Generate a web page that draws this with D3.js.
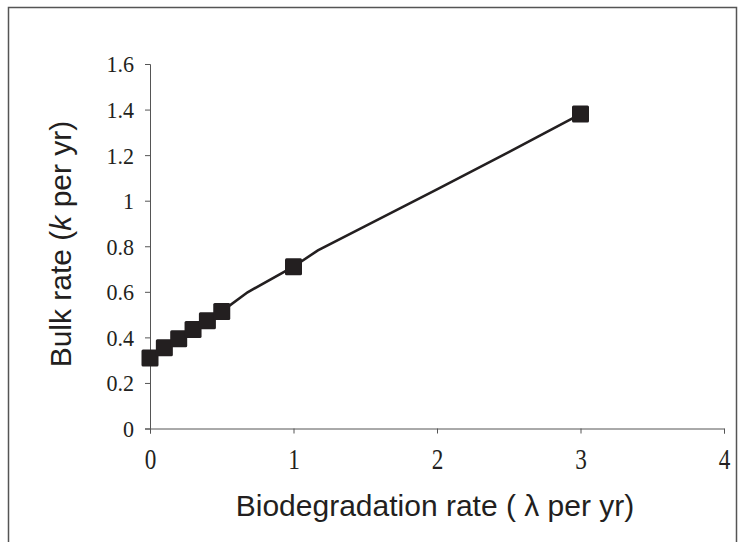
<!DOCTYPE html>
<html><head><meta charset="utf-8">
<script src="https://cdn.jsdelivr.net/npm/d3@7"></script>
<style>body{margin:0;background:#fff}svg{display:block}</style>
</head><body>
<script>
// data
const markerLambda = [0, 0.1, 0.2, 0.3, 0.4, 0.5, 1, 3];
const markerK      = [0.31, 0.355, 0.394, 0.435, 0.473, 0.514, 0.71, 1.38];
const lineLambda   = [0, 0.1, 0.2, 0.3, 0.4, 0.5, 0.68, 1, 1.17, 1.5, 2, 2.5, 2.73, 3];
const lineK        = [0.31, 0.355, 0.394, 0.435, 0.473, 0.514, 0.598, 0.71, 0.782, 0.888, 1.05, 1.213, 1.29, 1.38];
const xTicks = [0, 1, 2, 3, 4];
const yTicks = [0, 0.2, 0.4, 0.6, 0.8, 1, 1.2, 1.4, 1.6];
const xTitle = "Biodegradation rate ( λ per yr)";

const W = 745, H = 542;
const svg = d3.select("body").append("svg").attr("width", W).attr("height", H);
const x = d3.scaleLinear().domain([0, 4]).range([150, 724]);
const y = d3.scaleLinear().domain([0, 1.6]).range([428.5, 64]);

// frame
svg.append("path").attr("d", `M8.5,${H} V7.5 H736.5 V${H}`)
  .attr("fill", "none").attr("stroke", "#555").attr("stroke-width", 1.5);

const axisColor = "#555";
const serif = "'Liberation Serif', 'Times New Roman', serif";
const sans = "'Liberation Sans', Arial, sans-serif";
const gx = svg.append("g").attr("transform", `translate(0,${y(0)})`)
  .call(d3.axisBottom(x).tickValues(xTicks).tickSize(5).tickFormat(d3.format("d")));
const gy = svg.append("g").attr("transform", `translate(${x(0)},0)`)
  .call(d3.axisLeft(y).tickValues(yTicks).tickSize(5).tickPadding(0).tickFormat(d => d === 0 || d === 1 ? String(d) : d.toFixed(1)));
[gx, gy].forEach(g => {
  g.selectAll("path,line").attr("stroke", axisColor).attr("stroke-width", 1);
  g.selectAll("text").attr("fill", "#231f20").style("font-family", serif);
});
gx.selectAll("text").attr("y", 40.5).attr("dy", 0).style("font-size", "29px")
  .attr("transform", "scale(0.8,1)");
gy.selectAll("text").attr("x", -16 / 0.92).attr("dy", "0.33em").style("font-size", "24px")
  .attr("transform", "scale(0.92,1)");

// line
const pts = lineLambda.map((l, i) => [l, lineK[i]]);
svg.append("path").datum(pts)
  .attr("d", d3.line().x(d => x(d[0])).y(d => y(d[1])))
  .attr("fill", "none").attr("stroke", "#231f20").attr("stroke-width", 2.6);

// markers
const S = 17;
svg.append("g").selectAll("rect").data(markerLambda.map((l, i) => [l, markerK[i]]))
  .join("rect")
  .attr("x", d => x(d[0]) - S / 2).attr("y", d => y(d[1]) - S / 2)
  .attr("width", S).attr("height", S).attr("rx", 1.5)
  .attr("fill", "#231f20");

// titles
svg.append("text").attr("x", 435).attr("y", 516).attr("text-anchor", "middle")
  .style("font-family", sans).style("font-size", "30px")
  .attr("fill", "#231f20").text(xTitle);

const yt = svg.append("text").attr("transform", "translate(71,244) rotate(-90)")
  .attr("text-anchor", "middle")
  .style("font-family", sans).style("font-size", "30px")
  .attr("fill", "#231f20");
yt.append("tspan").text("Bulk rate (");
yt.append("tspan").style("font-style", "italic").text("k");
yt.append("tspan").text(" per yr)");
</script>
</body></html>
